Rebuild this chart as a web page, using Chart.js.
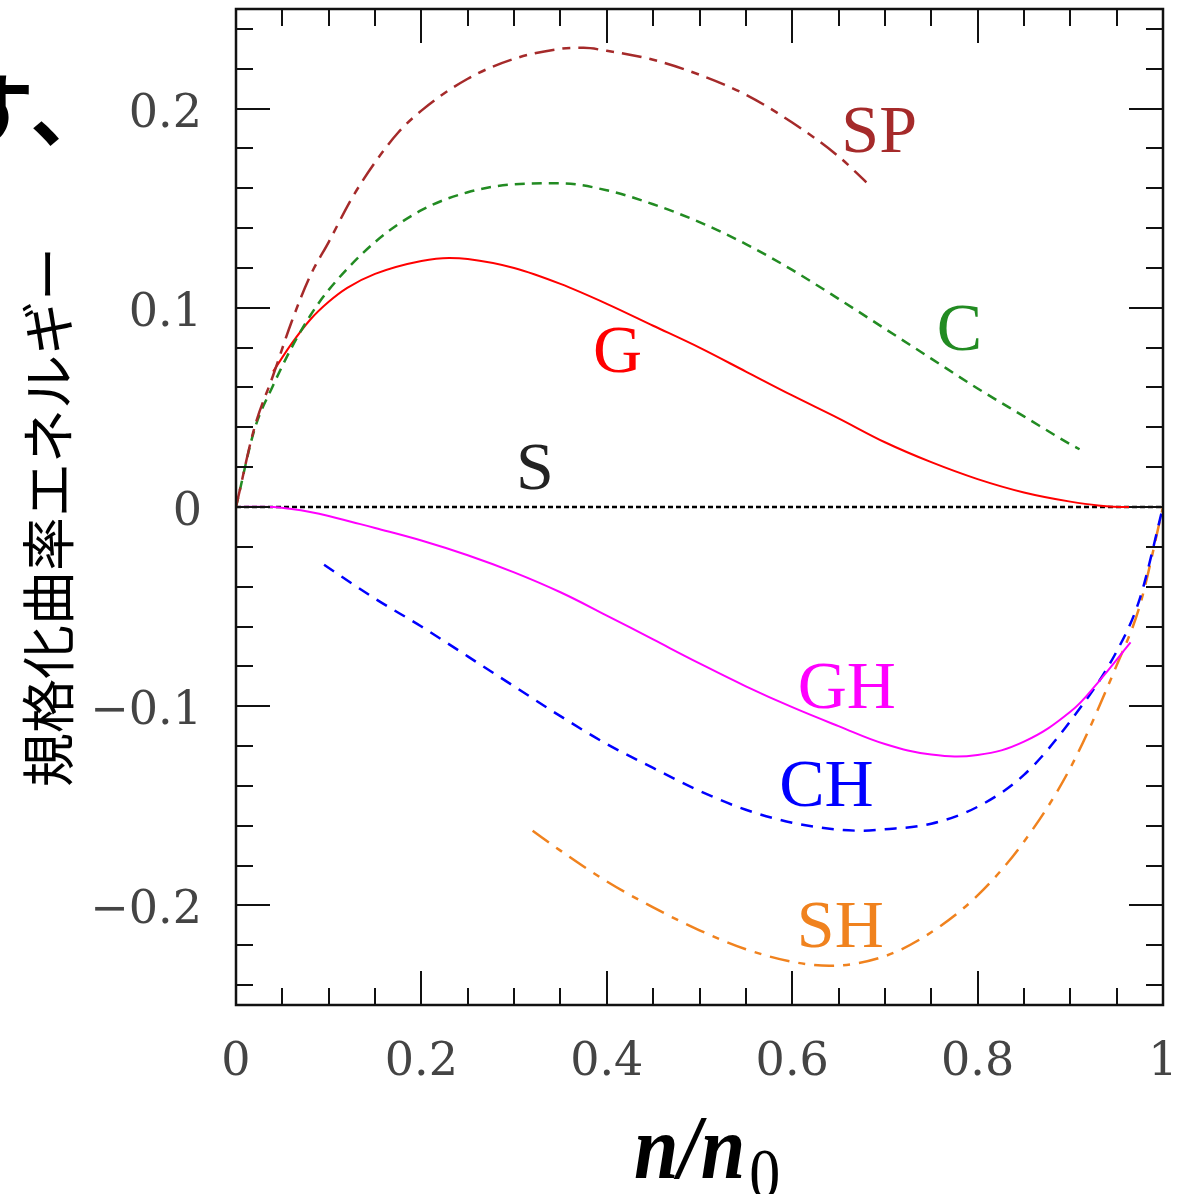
<!DOCTYPE html>
<html>
<head>
<meta charset="utf-8">
<script src="https://cdn.jsdelivr.net/npm/chart.js@4.4.0/dist/chart.umd.min.js"></script>
<style>
  html, body { margin: 0; padding: 0; background: #fff; overflow: hidden; }
  canvas { display: block; }
</style>
</head>
<body>
<canvas id="chart" width="1187" height="1194"></canvas>
<script>
// curves (x = n/n0)
const xS = [0, 1];
const yS = [0, 0];

const xSP = [0, 0.02, 0.04, 0.06, 0.08, 0.1, 0.125, 0.15, 0.175, 0.2, 0.25, 0.3, 0.35, 0.375, 0.4, 0.45, 0.5, 0.55, 0.6, 0.65, 0.68];
const ySP = [0, 0.040, 0.066, 0.093, 0.116, 0.133, 0.155, 0.173, 0.188, 0.199, 0.215, 0.225, 0.230, 0.2305, 0.229, 0.2245, 0.217, 0.207, 0.193, 0.176, 0.163];

const xC = [0, 0.02, 0.04, 0.06, 0.08, 0.1, 0.15, 0.2, 0.25, 0.3, 0.35, 0.4, 0.45, 0.5, 0.55, 0.6, 0.65, 0.7, 0.75, 0.8, 0.85, 0.9, 0.91];
const yC = [0, 0.039, 0.061, 0.080, 0.096, 0.109, 0.133, 0.149, 0.158, 0.162, 0.1625, 0.159, 0.152, 0.143, 0.132, 0.119, 0.1045, 0.0895, 0.0745, 0.0595, 0.0455, 0.0315, 0.029];

const xG = [0.04, 0.06, 0.08, 0.1, 0.12, 0.15, 0.2, 0.23, 0.25, 0.3, 0.35, 0.4, 0.45, 0.5, 0.55, 0.6, 0.65, 0.7, 0.75, 0.8, 0.85, 0.9, 0.93, 0.96, 1];
const yG = [0.068, 0.082, 0.094, 0.103, 0.110, 0.117, 0.1235, 0.125, 0.1245, 0.120, 0.112, 0.102, 0.091, 0.080, 0.068, 0.056, 0.0445, 0.0325, 0.0225, 0.014, 0.0073, 0.0027, 0.0008, 0, 0];

const xGH = [0, 0.04, 0.06, 0.08, 0.1, 0.125, 0.15, 0.2, 0.25, 0.3, 0.35, 0.4, 0.45, 0.5, 0.55, 0.6, 0.65, 0.7, 0.75, 0.8, 0.85, 0.9, 0.93, 0.965];
const yGH = [0, 0, -0.001, -0.0025, -0.0045, -0.0075, -0.0105, -0.0168, -0.0242, -0.0328, -0.0428, -0.0545, -0.0665, -0.0785, -0.0900, -0.1005, -0.1100, -0.1190, -0.1243, -0.1245, -0.1178, -0.1028, -0.0880, -0.068];

const xCH = [0.095, 0.15, 0.2, 0.25, 0.3, 0.35, 0.4, 0.45, 0.5, 0.55, 0.6, 0.65, 0.675, 0.7, 0.75, 0.8, 0.85, 0.9, 0.95, 0.975, 1];
const yCH = [-0.029, -0.046, -0.060, -0.075, -0.090, -0.105, -0.119, -0.131, -0.1425, -0.152, -0.1585, -0.162, -0.1625, -0.1618, -0.1590, -0.1505, -0.1345, -0.1075, -0.0725, -0.046, 0];

const xSH = [0.32, 0.35, 0.4, 0.45, 0.5, 0.55, 0.6, 0.64, 0.7, 0.75, 0.8, 0.85, 0.9, 0.95, 0.975, 1];
const ySH = [-0.1625, -0.1725, -0.188, -0.201, -0.2125, -0.222, -0.2283, -0.2303, -0.2255, -0.2135, -0.195, -0.168, -0.131, -0.0795, -0.0495, 0];

// tick labels
const xTickValues = [0, 0.2, 0.4, 0.6, 0.8, 1];
const xTickLabels = ["0", "0.2", "0.4", "0.6", "0.8", "1"];
const yTickValues = [0.2, 0.1, 0, -0.1, -0.2];
const yTickLabels = ["0.2", "0.1", "0", "\u22120.1", "\u22120.2"];

const yTitle = "規格化曲率エネルギー";

// curve names, placed at (x, y) in data units = left end of the text baseline
const curveNames = [
  { text: "SP", x: 0.653, y: 0.178, color: "#a52a2a" },
  { text: "C",  x: 0.756, y: 0.079, color: "#228b22" },
  { text: "G",  x: 0.385, y: 0.068, color: "#ff0000" },
  { text: "S",  x: 0.302, y: 0.009, color: "#222222" },
  { text: "GH", x: 0.606, y: -0.101, color: "#ff00ff" },
  { text: "CH", x: 0.586, y: -0.150, color: "#0000ff" },
  { text: "SH", x: 0.605, y: -0.221, color: "#f0821e" },
];

const pts = (xs, ys) => xs.map((v, i) => ({ x: v, y: ys[i] }));

const line = (label, xs, ys, color, dash, order) => ({
  label: label,
  data: pts(xs, ys),
  borderColor: color,
  borderWidth: dash.length ? 2.5 : 2,
  borderDash: dash,
  pointRadius: 0,
  fill: false,
  cubicInterpolationMode: "monotone",
  order: order || 0,
});

// frame, inward ticks on all four sides, tick labels and titles
const decorations = {
  id: "decorations",
  afterDatasetsDraw(chart) {
    const { ctx, scales: { x, y } } = chart;
    ctx.save();
    ctx.font = '68px "Liberation Serif"';
    ctx.textAlign = "left";
    ctx.textBaseline = "alphabetic";
    curveNames.forEach(n => {
      ctx.fillStyle = n.color;
      ctx.fillText(n.text, x.getPixelForValue(n.x), y.getPixelForValue(n.y));
    });
    ctx.restore();
  },
  afterDraw(chart) {
    const { ctx, chartArea: a, scales: { x, y } } = chart;
    ctx.save();
    ctx.strokeStyle = "#111";
    ctx.lineWidth = 2.5;
    ctx.strokeRect(a.left, a.top, a.right - a.left, a.bottom - a.top);

    ctx.lineWidth = 2;
    ctx.beginPath();
    for (let i = 0; i <= 20; i++) {
      const px = Math.round(x.getPixelForValue(i / 20));
      const len = i % 4 === 0 ? 34 : 17;
      ctx.moveTo(px, a.bottom); ctx.lineTo(px, a.bottom - len);
      ctx.moveTo(px, a.top); ctx.lineTo(px, a.top + len);
    }
    for (let i = -12; i <= 12; i++) {
      const py = Math.round(y.getPixelForValue(i * 0.02));
      const len = i % 5 === 0 ? 34 : 17;
      ctx.moveTo(a.left, py); ctx.lineTo(a.left + len, py);
      ctx.moveTo(a.right, py); ctx.lineTo(a.right - len, py);
    }
    ctx.stroke();

    ctx.fillStyle = "#444";
    ctx.font = '46px "DejaVu Serif"';
    ctx.textBaseline = "alphabetic";
    ctx.textAlign = "center";
    xTickValues.forEach((v, i) => {
      ctx.fillText(xTickLabels[i], x.getPixelForValue(v), a.bottom + 70);
    });
    ctx.textAlign = "right";
    yTickValues.forEach((v, i) => {
      ctx.fillText(yTickLabels[i], a.left - 34, y.getPixelForValue(v) + 18);
    });

    // y title
    ctx.fillStyle = "#000";
    ctx.save();
    ctx.translate(48, (a.top + a.bottom) / 2 + 10);
    ctx.rotate(-Math.PI / 2);
    ctx.textAlign = "center";
    ctx.textBaseline = "middle";
    ctx.font = '54px "Noto Sans CJK JP"';
    ctx.fillText(yTitle, 0, 0);
    ctx.restore();

    // x title n/n0
    ctx.save();
    ctx.textAlign = "left";
    ctx.textBaseline = "alphabetic";
    ctx.translate(634, 1178);
    ctx.scale(1, 1.15);
    ctx.font = 'bold italic 80px "Liberation Serif"';
    ctx.fillText("n/n", 0, 0);
    const w = ctx.measureText("n/n").width;
    ctx.font = '62px "Liberation Serif"';
    ctx.fillText("0", w + 4, 17);
    ctx.restore();

    // cut-off text of the surrounding page, top left
    ctx.textAlign = "left";
    ctx.textBaseline = "alphabetic";
    ctx.font = 'bold 80px "Noto Sans CJK JP"';
    ctx.fillText("す", -46, 140);
    ctx.fillText("、", 30, 140);
    ctx.restore();
  }
};

const datasets = [
  line("SP", xSP, ySP, "#a52a2a", [20, 8, 8, 8]),
  line("C", xC, yC, "#228b22", [10, 7]),
  line("G", xG, yG, "#ff0000", []),
  line("GH", xGH, yGH, "#ff00ff", []),
  line("CH", xCH, yCH, "#0000ff", [12, 9]),
  line("SH", xSH, ySH, "#f0821e", [20, 9, 7, 9]),
  line("S", xS, yS, "#000000", [5, 3], 10),
];
// GH bottoms out smoothly, use the plain spline there
datasets[3].cubicInterpolationMode = "default";
datasets[3].tension = 0.4;

new Chart(document.getElementById("chart"), {
  type: "line",
  data: { datasets: datasets },
  options: {
    responsive: false,
    animation: false,
    devicePixelRatio: 1,
    events: [],
    layout: { padding: { left: 236, right: 24, top: 9, bottom: 189 } },
    plugins: {
      legend: { display: false },
      tooltip: { enabled: false },
    },
    scales: {
      x: { type: "linear", min: 0, max: 1, display: false },
      y: { type: "linear", min: -0.25, max: 0.25, display: false },
    }
  },
  plugins: [decorations]
});
</script>
</body>
</html>
